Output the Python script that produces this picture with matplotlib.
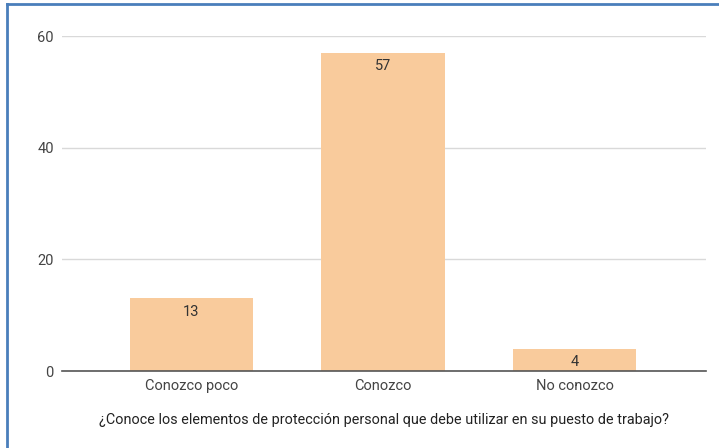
import numpy as np
import matplotlib.pyplot as plt
from matplotlib.lines import Line2D

categorias = ['Conozco poco', 'Conozco', 'No conozco']
valores = [13, 57, 4]
titulo_x = '¿Conoce los elementos de protección personal que debe utilizar en su puesto de trabajo?'

W, H = 719, 448
fig = plt.figure(figsize=(W / 100, H / 100), dpi=100)
plt.rcParams['font.family'] = ['Roboto', 'DejaVu Sans']

# axes placed in pixel coords
left, right, top, bottom = 62, 706, 36, 371
ax = fig.add_axes([left / W, 1 - bottom / H, (right - left) / W, (bottom - top) / H])

x = np.arange(len(categorias))
barras = ax.bar(x, valores, width=0.643, color='#F9CB9C', zorder=2)
ax.set_xlim(-0.676, 2.687)
ax.set_ylim(0, 60)
ax.set_yticks([0, 20, 40, 60])
ax.set_xticks(x)
ax.set_xticklabels(categorias)

for b, v in zip(barras, valores):
    ax.annotate(str(v), (b.get_x() + b.get_width() / 2, v), xytext=(0, -9.5),
                textcoords='offset points', ha='center', va='center',
                fontsize=10.5, color='#333333')

ax.grid(axis='y', color='#d9d9d9', linewidth=1, zorder=0)
for s in ['top', 'right', 'left']:
    ax.spines[s].set_visible(False)
ax.spines['bottom'].set_color('#555555')
ax.spines['bottom'].set_linewidth(1.2)
ax.spines['bottom'].set_zorder(3)
ax.tick_params(axis='both', length=0, labelsize=10.5, colors='#444444')
ax.tick_params(axis='y', pad=6)
ax.tick_params(axis='x', pad=6)
ax.set_xlabel(titulo_x, fontsize=10.4, color='#222222', labelpad=14)

# blue frame of the screenshot (left and top)
fig.add_artist(Line2D([6.5 / W, 6.5 / W], [0, 1 - 4.5 / H], transform=fig.transFigure,
                      color='#4a7ebb', linewidth=2))
fig.add_artist(Line2D([6.5 / W, 1], [1 - 4.5 / H, 1 - 4.5 / H], transform=fig.transFigure,
                      color='#4a7ebb', linewidth=2))

fig.savefig('out.png', dpi=100)
